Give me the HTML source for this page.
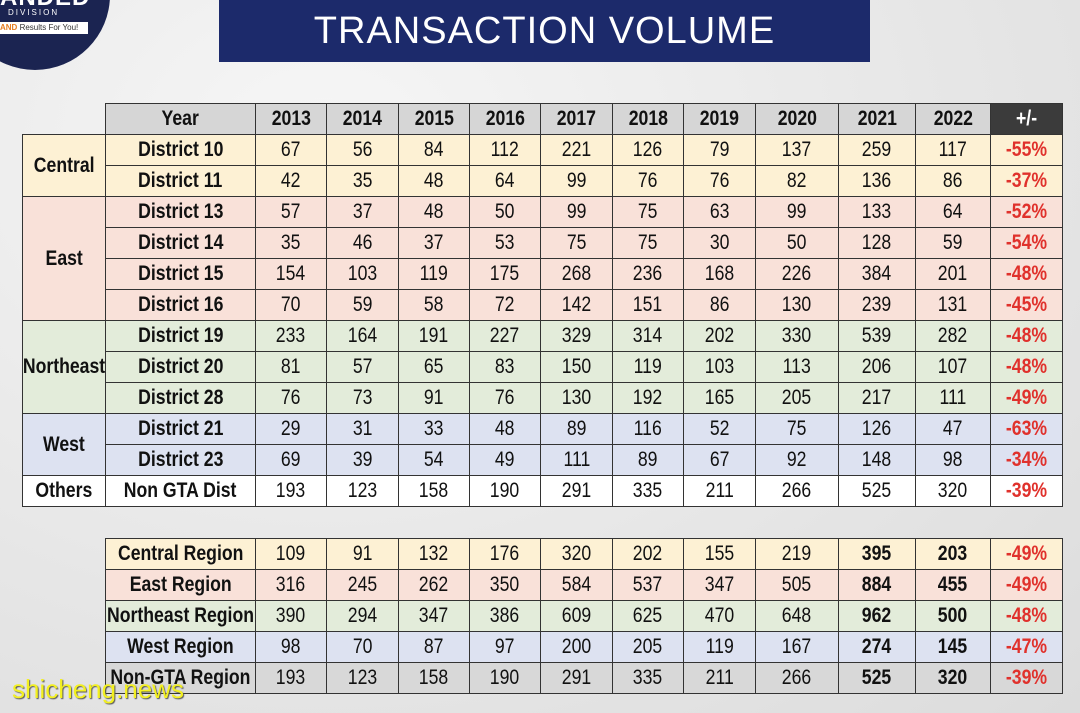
<!DOCTYPE html>
<html><head><meta charset="utf-8"><style>
body{margin:0;width:1080px;height:713px;overflow:hidden;background:#ebebeb;font-family:"Liberation Sans",sans-serif;position:relative}
.bg{position:absolute;inset:0;background:radial-gradient(ellipse at 30% 20%,#f6f6f6 0,#e6e6e6 60%,#dcdcdc 100%)}
.c{position:absolute;box-sizing:border-box;border:1px solid #333;display:flex;align-items:center;justify-content:center;font-size:21px;color:#111;overflow:hidden}
.c span{display:inline-block;transform:scaleX(.84);white-space:nowrap}
.b{font-weight:bold}
.r{color:#e0312c;font-weight:bold}
</style></head><body>
<div class="bg"></div>
<div style="position:absolute;left:-40px;top:-80px;width:150px;height:150px;border-radius:50%;background:#1b2451"></div>
<div style="position:absolute;left:0;top:-16px;color:#fff;font-weight:bold;font-size:24px;letter-spacing:1px">ANDED</div>
<div style="position:absolute;left:8px;top:8px;color:#fff;font-size:8px;letter-spacing:2px">DIVISION</div>
<div style="position:absolute;left:0;top:22px;width:88px;height:12px;background:#fff;font-size:8px;color:#333;line-height:12px"><b style="color:#e67e22">AND</b> Results For You!</div>
<div style="position:absolute;left:219px;top:0;width:651px;height:62px;background:#1c2a6b;color:#fff;font-size:38px;display:flex;align-items:center;justify-content:center;letter-spacing:1px"><span>TRANSACTION VOLUME</span></div>
<div id="t"></div>
<div style="position:absolute;left:12px;top:674px;font-size:26px;color:#f3f020;text-shadow:1px 1px 1px #555">shicheng.news</div>
<script>
const years=["2013","2014","2015","2016","2017","2018","2019","2020","2021","2022"];
const regions=["Central","East","Northeast","West","Others"];
const regionSpans=[2,4,3,2,1];
const districts=["District 10","District 11","District 13","District 14","District 15","District 16","District 19","District 20","District 28","District 21","District 23","Non GTA Dist"];
const districtValues=[
[67,56,84,112,221,126,79,137,259,117],
[42,35,48,64,99,76,76,82,136,86],
[57,37,48,50,99,75,63,99,133,64],
[35,46,37,53,75,75,30,50,128,59],
[154,103,119,175,268,236,168,226,384,201],
[70,59,58,72,142,151,86,130,239,131],
[233,164,191,227,329,314,202,330,539,282],
[81,57,65,83,150,119,103,113,206,107],
[76,73,91,76,130,192,165,205,217,111],
[29,31,33,48,89,116,52,75,126,47],
[69,39,54,49,111,89,67,92,148,98],
[193,123,158,190,291,335,211,266,525,320]];
const districtChange=["-55%","-37%","-52%","-54%","-48%","-45%","-48%","-48%","-49%","-63%","-34%","-39%"];
const regionTotals=["Central Region","East Region","Northeast Region","West Region","Non-GTA Region"];
const regionValues=[
[109,91,132,176,320,202,155,219,395,203],
[316,245,262,350,584,537,347,505,884,455],
[390,294,347,386,609,625,470,648,962,500],
[98,70,87,97,200,205,119,167,274,145],
[193,123,158,190,291,335,211,266,525,320]];
const regionChange=["-49%","-49%","-48%","-47%","-39%"];
const colors=["#fdf1d4","#f9e1d9","#e3ecda","#dde2f1","#ffffff"];
const totColors=["#fdf1d4","#f9e1d9","#e3ecda","#dde2f1","#d8d8d8"];
const xs=[255,326,398,469,540,612,683,755,838,915,990,1062];
const T=document.getElementById('t');
function cell(x,y,w,h,txt,bg,cls,name){
  const d=document.createElement('div');
  d.className='c '+(cls||'');
  d.style.cssText=`left:${x}px;top:${y}px;width:${w+1}px;height:${h+1}px;background:${bg}`;
  
  
  d.innerHTML='<span>'+txt+'</span>';
  T.appendChild(d);
}
const H=31,top0=103;
cell(105,top0,150,H,'Year','#d6d6d6','b','year-header');
years.forEach((y,i)=>cell(xs[i],top0,xs[i+1]-xs[i],H,y,'#d6d6d6','b','year-header-'+y));
const ph=document.createElement('div');ph.className='c b';ph.style.cssText=`left:990px;top:${top0}px;width:73px;height:${H+1}px;background:#3b3b3b;color:#fff`;


ph.innerHTML='<span>+/-</span>';T.appendChild(ph);
let row=0;
regions.forEach((r,ri)=>{
  const y=top0+H*(row+1);
  cell(22,y,83,H*regionSpans[ri],r,colors[ri],'b','region-'+r.toLowerCase());
  for(let k=0;k<regionSpans[ri];k++){
    const di=row+k,yy=top0+H*(di+1);
    cell(105,yy,150,H,districts[di],colors[ri],'b','district-label');
    districtValues[di].forEach((v,i)=>cell(xs[i],yy,xs[i+1]-xs[i],H,v,colors[ri],'','district-value'));
    cell(990,yy,72,H,districtChange[di],colors[ri],'r','district-change');
  }
  row+=regionSpans[ri];
});
const top1=538;
regionTotals.forEach((r,ri)=>{
  const yy=top1+H*ri;
  cell(105,yy,150,H,r,totColors[ri],'b','region-total-label');
  regionValues[ri].forEach((v,i)=>cell(xs[i],yy,xs[i+1]-xs[i],H,v,totColors[ri],i>=8?'b':'','region-total-value'));
  cell(990,yy,72,H,regionChange[ri],totColors[ri],'r','region-total-change');
});
</script>
</body></html>
